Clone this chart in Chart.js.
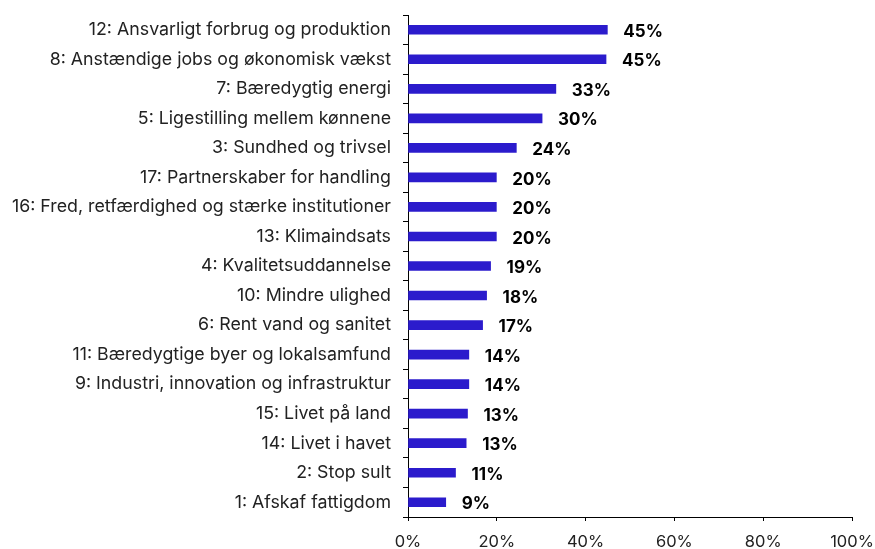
<!DOCTYPE html>
<html>
<head>
<meta charset="utf-8">
<script src="https://cdn.jsdelivr.net/npm/chart.js@4"></script>
<style>
  html, body { margin: 0; padding: 0; background: #fff; }
  #wrap { width: 875px; height: 549px; position: relative; }
</style>
</head>
<body>
<div id="wrap"><canvas id="barChart"></canvas></div>
<script>
// Goals, top to bottom
const goals = [
  '12: Ansvarligt forbrug og produktion',
  '8: Anstændige jobs og økonomisk vækst',
  '7: Bæredygtig energi',
  '5: Ligestilling mellem kønnene',
  '3: Sundhed og trivsel',
  '17: Partnerskaber for handling',
  '16: Fred, retfærdighed og stærke institutioner',
  '13: Klimaindsats',
  '4: Kvalitetsuddannelse',
  '10: Mindre ulighed',
  '6: Rent vand og sanitet',
  '11: Bæredygtige byer og lokalsamfund',
  '9: Industri, innovation og infrastruktur',
  '15: Livet på land',
  '14: Livet i havet',
  '2: Stop sult',
  '1: Afskaf fattigdom'
];
const shares = [44.9, 44.6, 33.3, 30.2, 24.4, 19.9, 19.9, 19.9, 18.6, 17.7, 16.8, 13.7, 13.7, 13.4, 13.1, 10.7, 8.5];
const xTicks = [0, 20, 40, 60, 80, 100];

const fontFam = 'Inter, "Noto Sans", sans-serif';

// value labels to the right of each bar
const barLabels = {
  id: 'barLabels',
  afterDatasetsDraw(chart) {
    const c = chart.ctx;
    const meta = chart.getDatasetMeta(0);
    c.save();
    c.font = 'bold 17px ' + fontFam;
    c.fillStyle = '#000';
    c.textBaseline = 'middle';
    c.textAlign = 'left';
    meta.data.forEach((bar, i) => {
      c.fillText(Math.round(shares[i]) + '%', bar.x + 16, bar.y + 2);
    });
    c.restore();
  }
};

const ctx = document.getElementById('barChart').getContext('2d');
new Chart(ctx, {
  type: 'bar',
  data: {
    labels: goals,
    datasets: [{
      data: shares,
      backgroundColor: '#2b1bcc',
      barThickness: 9
    }]
  },
  options: {
    indexAxis: 'y',
    responsive: true,
    maintainAspectRatio: false,
    animation: false,
    layout: { padding: { top: 15, right: 23, left: 0, bottom: 0 } },
    plugins: {
      legend: { display: false },
      tooltip: { enabled: false }
    },
    scales: {
      x: {
        min: 0,
        max: 100,
        afterBuildTicks: (axis) => { axis.ticks = xTicks.map(v => ({ value: v })); },
        afterFit: (axis) => {
          axis.height = 32;
          axis.paddingLeft = 0;
          axis.paddingRight = 0;
        },
        ticks: {
          color: '#222',
          font: { family: fontFam, size: 16.5 },
          padding: 11,
          maxRotation: 0,
          callback: (v) => v + '%'
        },
        grid: { drawOnChartArea: false, tickLength: 4, color: '#000' },
        border: { display: true, color: '#000', width: 1 }
      },
      y: {
        afterFit: (axis) => {
          axis.width = 408;
          axis.paddingTop = 0;
          axis.paddingBottom = 0;
        },
        ticks: {
          color: '#222',
          font: { family: fontFam, size: 17.8 },
          padding: 12,
          autoSkip: false
        },
        grid: { drawOnChartArea: false, tickLength: 5, color: '#000', offset: true },
        border: { display: true, color: '#000', width: 1 }
      }
    }
  },
  plugins: [barLabels]
});
</script>
</body>
</html>
